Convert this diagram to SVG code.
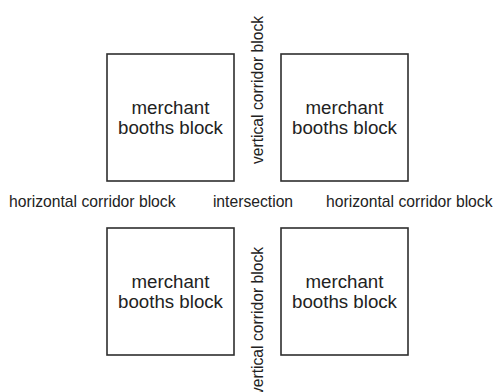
<svg xmlns="http://www.w3.org/2000/svg" width="494" height="392" viewBox="0 0 494 392">
  <style>
    .block { fill: #ffffff; stroke: #2e2e2e; stroke-width: 1.6; }
    .blockText { font-family: "Liberation Sans", Arial, sans-serif; font-size: 18.7px; fill: #222222; text-anchor: middle; }
    .label { font-family: "Liberation Sans", Arial, sans-serif; font-size: 15.7px; fill: #222222; }
  </style>
  <rect width="494" height="392" fill="#ffffff"/>

  <!-- merchant booth blocks -->
  <g id="block-nw">
    <rect class="block" x="107" y="54" width="127" height="127"/>
    <text class="blockText" x="170.5" y="113.5">merchant</text>
    <text class="blockText" x="170.5" y="134">booths block</text>
  </g>
  <g id="block-ne">
    <rect class="block" x="281" y="54" width="127" height="127"/>
    <text class="blockText" x="344.5" y="113.5">merchant</text>
    <text class="blockText" x="344.5" y="134">booths block</text>
  </g>
  <g id="block-sw">
    <rect class="block" x="107" y="228" width="127" height="127"/>
    <text class="blockText" x="170.5" y="287.5">merchant</text>
    <text class="blockText" x="170.5" y="308">booths block</text>
  </g>
  <g id="block-se">
    <rect class="block" x="281" y="228" width="127" height="127"/>
    <text class="blockText" x="344.5" y="287.5">merchant</text>
    <text class="blockText" x="344.5" y="308">booths block</text>
  </g>

  <!-- corridor labels -->
  <g id="corridors">
    <text id="corridor-west" class="label" x="9" y="206.5">horizontal corridor block</text>
    <text id="intersection" class="label" x="253" y="206.5" text-anchor="middle">intersection</text>
    <text id="corridor-east" class="label" x="326" y="206.5">horizontal corridor block</text>
    <text id="corridor-north" class="label" text-anchor="middle" transform="translate(263 90) rotate(-90)">vertical corridor block</text>
    <text id="corridor-south" class="label" text-anchor="middle" transform="translate(263 321) rotate(-90)">vertical corridor block</text>
  </g>

  <!-- no connectors in this layout -->
  <g id="connectors"/>
</svg>
